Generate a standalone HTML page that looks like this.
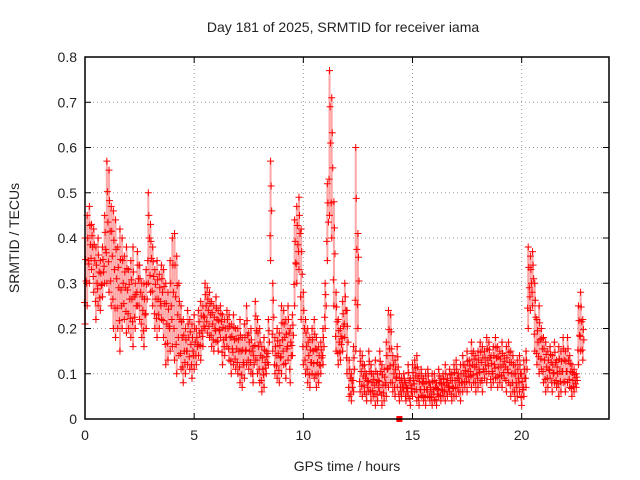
<!DOCTYPE html>
<html><head><meta charset="utf-8"><style>
body{margin:0;background:#fff}
svg{display:block;font-family:"Liberation Sans",sans-serif}
</style></head><body>
<svg id="chart" width="640" height="480">
<rect width="640" height="480" fill="#fff"/>
<text x="343" y="32" font-size="14" text-anchor="middle" fill="#222">Day 181 of 2025, SRMTID for receiver iama</text>
<text x="347" y="471" font-size="14" text-anchor="middle" fill="#222">GPS time / hours</text>
<text transform="translate(19,238) rotate(-90)" font-size="14" text-anchor="middle" fill="#222">SRMTID / TECUs</text>
<g id="grid"></g>
<g id="ticks"></g>
<g id="marks"></g>
<rect x="85" y="57" width="524" height="362" fill="none" stroke="#000" stroke-width="1.5"/>
</svg>
<script>
const xTicks=[0,5,10,15,20];
const yTicks=[0,0.1,0.2,0.3,0.4,0.5,0.6,0.7,0.8];
const yTickLabels=["0","0.1","0.2","0.3","0.4","0.5","0.6","0.7","0.8"];
const tStart=0, tStep=0.1;
const highVals=[.40,.45,.47,.43,.42,.38,.40,.35,.38,.45,
.57,.55,.47,.46,.44,.38,.42,.40,.36,.38,
.33,.35,.38,.30,.37,.34,.30,.30,.33,.50,
.43,.38,.33,.35,.32,.34,.33,.30,.28,.35,
.40,.41,.36,.30,.25,.22,.20,.24,.22,.21,
.23,.20,.24,.26,.25,.30,.29,.28,.26,.25,
.27,.24,.25,.23,.22,.24,.23,.21,.23,.20,
.20,.22,.18,.21,.25,.19,.20,.16,.26,.22,
.20,.16,.18,.15,.22,.57,.30,.18,.20,.19,
.25,.24,.22,.25,.20,.23,.44,.47,.49,.42,
.28,.22,.20,.18,.20,.22,.18,.16,.17,.20,
.30,.52,.77,.71,.48,.28,.22,.20,.26,.30,
.24,.13,.10,.16,.60,.41,.15,.14,.12,.10,
.15,.12,.10,.13,.10,.15,.12,.11,.17,.24,
.23,.14,.13,.16,.10,.09,.10,.08,.12,.09,
.12,.13,.14,.10,.11,.09,.10,.11,.08,.10,
.10,.08,.11,.09,.10,.12,.09,.11,.10,.12,
.13,.10,.12,.14,.12,.15,.13,.17,.15,.14,
.15,.17,.16,.15,.18,.17,.14,.16,.18,.16,
.15,.17,.14,.16,.17,.15,.14,.12,.13,.14,
.10,.13,.15,.38,.36,.37,.30,.22,.25,.20,
.18,.17,.15,.16,.14,.17,.13,.16,.15,.18,
.15,.18,.14,.12,.11,.10,.25,.28,.22];
const lowVals=[.21,.25,.30,.33,.28,.22,.25,.24,.27,.30,
.30,.28,.25,.20,.18,.20,.15,.20,.22,.19,
.20,.18,.16,.20,.25,.22,.18,.16,.20,.30,
.28,.25,.20,.18,.20,.22,.18,.12,.13,.15,
.16,.13,.10,.14,.11,.08,.10,.12,.11,.09,
.11,.12,.14,.13,.16,.20,.19,.18,.16,.15,
.17,.15,.18,.12,.14,.16,.13,.10,.12,.11,
.10,.08,.07,.09,.12,.11,.10,.08,.13,.10,
.08,.06,.07,.10,.12,.35,.15,.10,.09,.08,
.10,.12,.09,.13,.08,.14,.25,.30,.33,.22,
.12,.10,.08,.07,.10,.09,.07,.08,.10,.12,
.20,.35,.45,.40,.25,.15,.12,.13,.15,.18,
.10,.05,.04,.06,.15,.20,.06,.05,.06,.04,
.06,.04,.05,.03,.04,.06,.03,.04,.05,.07,
.08,.06,.05,.07,.04,.05,.06,.04,.05,.03,
.05,.06,.04,.03,.05,.04,.03,.05,.04,.03,
.04,.03,.05,.04,.05,.04,.05,.06,.04,.05,
.05,.06,.04,.06,.07,.06,.08,.07,.08,.06,
.07,.08,.06,.09,.08,.10,.07,.08,.09,.07,
.08,.07,.09,.06,.08,.05,.06,.04,.05,.06,
.03,.05,.07,.20,.24,.25,.15,.12,.10,.11,
.08,.06,.07,.09,.06,.08,.07,.05,.06,.08,
.06,.08,.07,.05,.06,.07,.12,.15,.13];
const zeroMarkTimes=[14.4];

const NS="http://www.w3.org/2000/svg";
const X0=85,X1=609,Y0=419,Y1=57,XMAX=24,YMAX=0.8;
function xs(v){return X0+(v/XMAX)*(X1-X0);}
function ys(v){return Y0-(v/YMAX)*(Y0-Y1);}
function mk(tag,attrs,parent){const e=document.createElementNS(NS,tag);for(const k in attrs)e.setAttribute(k,attrs[k]);parent.appendChild(e);return e;}
const grid=document.getElementById('grid'),ticks=document.getElementById('ticks'),marks=document.getElementById('marks');
xTicks.forEach((t,i)=>{
  const x=xs(t);
  if(t>0){const g=mk('line',{x1:x,x2:x,y1:Y1,y2:Y0,stroke:'#999','stroke-dasharray':'1,3','stroke-width':1},grid);
  
  }
  mk('line',{x1:x,x2:x,y1:Y0,y2:Y0-6,stroke:'#000'},ticks);
  mk('line',{x1:x,x2:x,y1:Y1,y2:Y1+6,stroke:'#000'},ticks);
  const tx=mk('text',{x:x,y:Y0+21,'font-size':14,'text-anchor':'middle',fill:'#222'},ticks);
  tx.textContent=String(t);
  
  
});
yTicks.forEach((t,i)=>{
  const y=ys(t);
  if(t>0&&t<YMAX){const g=mk('line',{x1:X0,x2:X1,y1:y,y2:y,stroke:'#999','stroke-dasharray':'1,3','stroke-width':1},grid);
  
  }
  mk('line',{x1:X0,x2:X0+6,y1:y,y2:y,stroke:'#000'},ticks);
  mk('line',{x1:X1,x2:X1-6,y1:y,y2:y,stroke:'#000'},ticks);
  const tx=mk('text',{x:X0-8,y:y+5,'font-size':14,'text-anchor':'end',fill:'#222'},ticks);
  tx.textContent=yTickLabels[i];
  
  
});
function plus(x,y){
  const p=mk('path',{d:`M${x-3.5},${y}h7M${x},${y-3.5}v7`,stroke:'#f00','stroke-width':1,fill:'none'},marks);
  
  
}
highVals.forEach((h,i)=>{
  const t=tStart+i*tStep,l=lowVals[i],x=xs(t);
  const b=mk('line',{x1:x,x2:x,y1:ys(h),y2:ys(l),stroke:'#f00','stroke-width':2,opacity:0.35},marks);
  
  
  const dx=xs(0.05)-X0;
  plus(x,ys(h));plus(x,ys(l));
  plus(x+dx,ys(l+(h-l)*0.5));
  plus(x-dx*0.5,ys(l+(h-l)*0.25));
  plus(x+dx*0.5,ys(l+(h-l)*0.75));
});
zeroMarkTimes.forEach(t=>{
  const r=mk('rect',{x:xs(t)-3,y:Y0-3,width:6,height:6,fill:'#f00'},marks);
  
  
});
</script>
</body></html>
